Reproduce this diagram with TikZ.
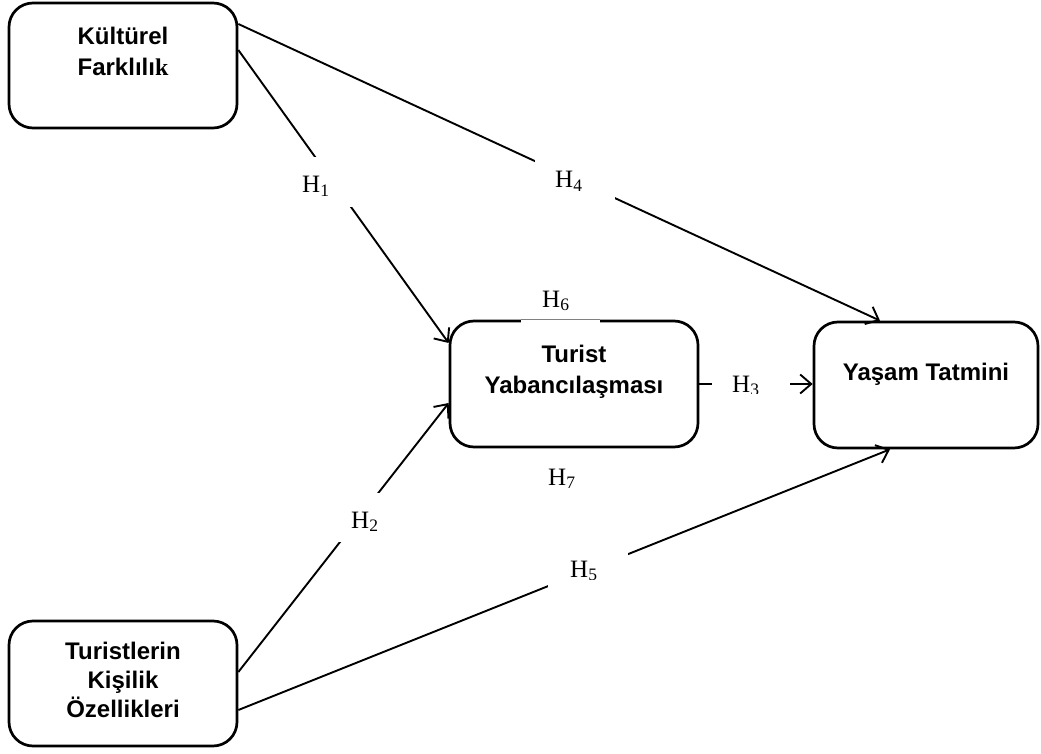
\documentclass[tikz,border=0pt]{standalone}
\usepackage{fontspec}
\setmainfont{Liberation Serif}
\newfontfamily\boxfont{Liberation Sans}
\usetikzlibrary{arrows.meta}
\begin{document}
\begin{tikzpicture}[x=1pt,y=-1pt,
  box/.style={draw, line width=2.7pt, rounded corners=24pt, inner sep=0pt},
  boxtext/.style={font=\boxfont\bfseries\fontsize{24}{31}\selectfont, align=center, inner sep=0pt, anchor=north},
  conn/.style={line width=1.9pt, -{Straight Barb[length=11pt,width=19pt,line width=1.9pt]}},
  gap/.style={fill=white, inner sep=0pt},
  hyp/.style={font=\fontsize{25}{30}\selectfont, inner sep=0pt, anchor=base west}]
\useasboundingbox (0,0) rectangle (1041,754);
% boxes
\node[box, minimum width=228pt, minimum height=125pt] (A) at (123,65.5) {};
\node[box, minimum width=248pt, minimum height=126pt] (B) at (574,384) {};
\node[box, minimum width=224pt, minimum height=126pt] (D) at (926,385) {};
\node[box, minimum width=228pt, minimum height=125pt] (C) at (123,683.5) {};
% box texts
\node[boxtext] (tA) at (123,27) {Kültürel\\Farklılı{\rmfamily\bfseries k}};
\node[boxtext] (tB) at (574,345) {Turist\\Yabancılaşması};
\node[boxtext] (tD) at (926,363) {Yaşam Tatmini};
\node[boxtext, font=\boxfont\bfseries\fontsize{24}{29}\selectfont] (tC) at (123,642) {Turistlerin\\Kişilik\\Özellikleri};
% connectors
\draw[conn] ([yshift=15.5pt]A.east) -- ([yshift=41pt]B.west);
\draw[conn] ([yshift=41.5pt]A.east) -- ([xshift=-46pt]D.north);
\draw[conn] ([yshift=11.5pt]C.east) -- ([yshift=-19pt]B.west);
\draw[conn] ([yshift=-26.5pt]C.east) -- ([xshift=-36pt]D.south);
\draw[conn] (B.east) -- (B.east -| D.west);
% label backgrounds (gaps in the connectors)
\node[gap, minimum width=60pt, minimum height=50pt] (g1) at (325,182) {};
\node[gap, minimum width=80pt, minimum height=50pt] (g4) at (575,180) {};
\node[gap, minimum width=56pt, minimum height=49pt] (g2) at (358,517) {};
\node[gap, minimum width=80pt, minimum height=40pt] (g5) at (588,570) {};
\node[gap, minimum width=78pt, minimum height=30pt] (g3) at (751,385) {};
\node[gap, minimum width=79pt, minimum height=38pt] (g6) at (560.5,304) {};
\draw[gray, line width=0.8pt] (g6.south west |- B.north) -- (g6.south east |- B.north);
% hypothesis labels
\node[hyp] (h1) at (302,193) {H\textsubscript{1}};
\node[hyp] (h4) at (555,188) {H\textsubscript{4}};
\node[hyp] (h2) at (351,528) {H\textsubscript{2}};
\node[hyp] (h7) at (548,485) {H\textsubscript{7}};
\begin{scope}
\clip (560,540) rectangle (610,579);
\node[hyp] (h5) at (570,577) {H\textsubscript{5}};
\end{scope}
\begin{scope}
\clip (720,360) rectangle (780,393);
\node[hyp] (h3) at (732,392) {H\textsubscript{3}};
\end{scope}
\begin{scope}
\clip (530,280) rectangle (590,310);
\node[hyp] (h6) at (542,307) {H\textsubscript{6}};
\end{scope}
\end{tikzpicture}
\end{document}
